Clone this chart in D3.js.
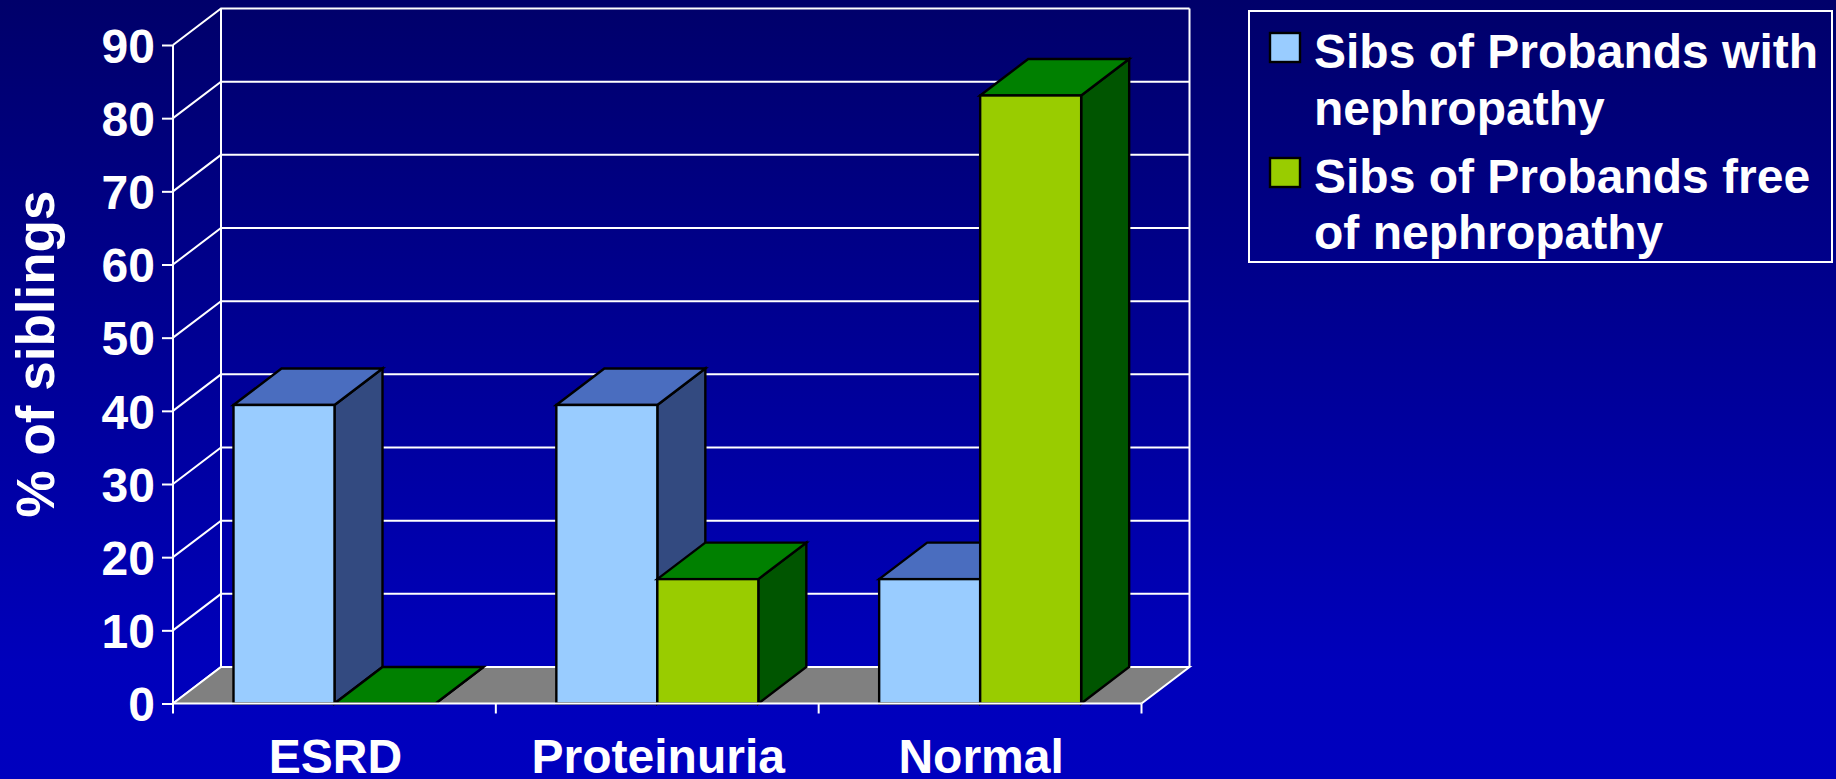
<!DOCTYPE html>
<html><head><meta charset="utf-8">
<script src="https://cdnjs.cloudflare.com/ajax/libs/d3/7.8.5/d3.min.js"></script>
<style>html,body{margin:0;padding:0;background:#0000bb;overflow:hidden}svg{display:block}text{font-family:"Liberation Sans",Arial,sans-serif;font-weight:700;fill:#fff}</style>
</head><body><svg id="c" width="1836" height="779"></svg>
<script>
const categories=["ESRD","Proteinuria","Normal"];
const seriesNames=["Sibs of Probands with nephropathy","Sibs of Probands free of nephropathy"];
const withNephropathy=[40.8,40.8,17];
const freeOfNephropathy=[0,17,83.1];
const yTicks=[0,10,20,30,40,50,60,70,80,90];
const legendLines=[["Sibs of Probands with","nephropathy"],["Sibs of Probands free","of nephropathy"]];
const frontColors=["#99ccff","#99cc00"],topColors=["#4a6dbf","#008000"],sideColors=["#334a80","#005500"];

const W=1836,H=779,depthX=48,depthY=36.5;
const svg=d3.select("#c");
const defs=svg.append("defs");
const g=defs.append("linearGradient").attr("id","bg").attr("x1",0).attr("y1",0).attr("x2",0).attr("y2",1);
g.append("stop").attr("offset",0).attr("stop-color","#00006a");
g.append("stop").attr("offset",0.85).attr("stop-color","#0000bb");
g.append("stop").attr("offset",1).attr("stop-color","#0000bf");
svg.append("rect").attr("width",W).attr("height",H).attr("fill","url(#bg)");

const y=d3.scaleLinear().domain([0,90]).range([703.5,45]);
const x=d3.scaleBand().domain(categories).range([173,1141.5]);
const x1=d3.scaleBand().domain([0,1]).range([60.5,60.5+2*101]);
const xL=x.range()[0],xR=x.range()[1],y0=y(0);

const grid=svg.append("g").attr("stroke","#fff").attr("fill","none");
grid.selectAll("path.g").data(yTicks).join("path").attr("class","g").attr("stroke-width",2)
  .attr("d",v=>d3.line()([[xL,y(v)],[xL+depthX,y(v)-depthY],[xR+depthX,y(v)-depthY]]));
grid.append("line").attr("x1",xL+depthX).attr("x2",xL+depthX).attr("y1",y(90)-depthY).attr("y2",y0-depthY).attr("stroke-width",2);
grid.append("line").attr("x1",xR+depthX).attr("x2",xR+depthX).attr("y1",y(90)-depthY).attr("y2",y0-depthY).attr("stroke-width",2);

svg.append("path").attr("fill","#808080")
  .attr("d",d3.line()([[xL,y0],[xL+depthX,y0-depthY],[xR+depthX,y0-depthY],[xR,y0]])+"Z");
svg.append("path").attr("fill","none").attr("stroke","#fff").attr("stroke-width",2)
  .attr("d",d3.line()([[xL,y0],[xL+depthX,y0-depthY],[xR+depthX,y0-depthY],[xR,y0]]));

const bars=[];
categories.forEach((c,i)=>{[withNephropathy[i],freeOfNephropathy[i]].forEach((v,s)=>bars.push({c,v,s}));});
const bw=x1.bandwidth();
const bar=svg.append("g").attr("stroke","#000").attr("stroke-width",2.4).attr("stroke-linejoin","miter")
  .selectAll("g").data(bars).join("g");
bar.append("path").attr("fill",d=>sideColors[d.s]).attr("d",d=>{const l=x(d.c)+x1(d.s)+bw,t=y(d.v);
  return d3.line()([[l,t],[l+depthX,t-depthY],[l+depthX,y0-depthY],[l,y0]])+"Z";});
bar.append("path").attr("fill",d=>topColors[d.s]).attr("d",d=>{const l=x(d.c)+x1(d.s),t=y(d.v);
  return d3.line()([[l,t],[l+depthX,t-depthY],[l+bw+depthX,t-depthY],[l+bw,t]])+"Z";});
bar.append("rect").attr("fill",d=>frontColors[d.s]).attr("x",d=>x(d.c)+x1(d.s)).attr("y",d=>y(d.v))
  .attr("width",bw).attr("height",d=>y0-y(d.v));

const ya=svg.append("g").attr("transform",`translate(${xL},0)`)
  .call(d3.axisLeft(y).tickValues(yTicks).tickSize(11).tickPadding(7));
ya.select(".domain").attr("stroke","#fff").attr("stroke-width",2).attr("d",`M0,${y(90)}V${y0}`);
ya.selectAll("line").attr("stroke","#fff").attr("stroke-width",2);
ya.selectAll("text").attr("font-size",48).attr("dy","0.36em").style("fill","#fff");

const xa=svg.append("g").attr("transform",`translate(1,${y0})`)
  .call(d3.axisBottom(x).tickSize(0).tickPadding(40));
xa.select(".domain").attr("stroke","#fff").attr("stroke-width",2).attr("d",`M${xL-1},0H${xR-1}`);
xa.selectAll("text").attr("font-size",48).attr("dy",0).attr("y",69.5).style("fill","#fff");
const edges=[...categories.map(c=>x(c)),xR];
svg.append("g").selectAll("line").data(edges).join("line")
  .attr("x1",d=>d).attr("x2",d=>d).attr("y1",y0).attr("y2",y0+10).attr("stroke","#fff").attr("stroke-width",2);

svg.append("text").attr("transform","translate(53.5,354) rotate(-90)").attr("text-anchor","middle")
  .attr("font-size",53).text("% of siblings");

svg.append("rect").attr("x",1249).attr("y",11).attr("width",583).attr("height",251)
  .attr("fill","none").attr("stroke","#fff").attr("stroke-width",2);
const swY=[33,158],baseY=[[68,124.5],[193,249]];
legendLines.forEach((lines,i)=>{
  svg.append("rect").attr("x",1270).attr("y",swY[i]).attr("width",30).attr("height",29)
    .attr("fill",frontColors[i]).attr("stroke","#000").attr("stroke-width",2.4);
  lines.forEach((t,j)=>svg.append("text").attr("x",1314).attr("y",baseY[i][j]).attr("font-size",48).text(t));
});
</script></body></html>
